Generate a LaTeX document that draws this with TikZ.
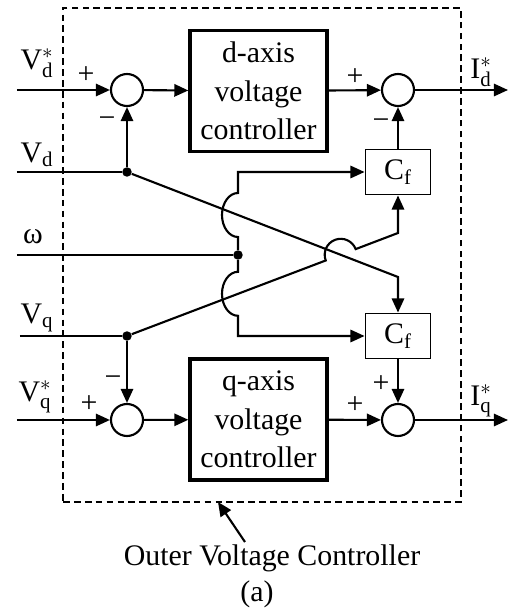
\documentclass[tikz,border=0pt]{standalone}
\usepackage{fontspec}
\setmainfont{Liberation Serif}
\usetikzlibrary{arrows.meta, positioning, calc}

\begin{document}
\begin{tikzpicture}[
          x=0.02cm, y=0.02cm,
          ctrlbox/.style={rectangle, draw, line width=1.9pt, minimum width=2.74cm, minimum height=2.42cm, align=center, font=\fontsize{17}{22}\selectfont},
          gainbox/.style={rectangle, draw, line width=1.1pt, minimum width=1.3cm, minimum height=0.9cm, font=\fontsize{17}{20}\selectfont},
          sumnode/.style={circle, draw, line width=1.2pt, minimum size=0.64cm, inner sep=0pt},
          dot/.style={circle, fill, minimum size=0.19cm, inner sep=0pt},
          outerbox/.style={rectangle, draw, line width=1.2pt, dash pattern=on 3.8pt off 2.4pt},
          sig/.style={font=\fontsize{17}{20}\selectfont, inner sep=0pt},
          sgn/.style={font=\fontsize{17}{20}\selectfont, inner sep=0pt},
          wire/.style={line width=1.2pt},
          arr/.style={-{Triangle[length=8pt, width=7pt]}, line width=1.2pt}
        ]
          \useasboundingbox (0,0) rectangle (510,610);

          \node[outerbox, minimum width=7.96cm, minimum height=9.88cm] (outer) at (262,355) {};

          % d-axis row
          \node[sumnode] (sd1) at (127,520) {};
          \node[ctrlbox] (dctrl) at (258.5,519) {d-axis\\voltage\\controller};
          \node[sumnode] (sd2) at (398,520) {};
          \node[gainbox] (cfd) at (398,438) {C\textsubscript{f}};

          % q-axis row
          \node[sumnode] (sq1) at (127,190) {};
          \node[ctrlbox] (qctrl) at (258.5,190.5) {q-axis\\voltage\\controller};
          \node[sumnode] (sq2) at (398,190) {};
          \node[gainbox] (cfq) at (398,274) {C\textsubscript{f}};

          \node[dot] (vddot) at (127,438) {};
          \node[dot] (wdot) at (238,355) {};
          \node[dot] (vqdot) at (127,274) {};

          \coordinate (vdsin) at (17,520);
          \coordinate (vdin) at (17,438);
          \coordinate (win) at (17,355);
          \coordinate (vqin) at (20,274);
          \coordinate (vqsin) at (17,190);
          \coordinate (idout) at (508,520);
          \coordinate (iqout) at (508,190);
          \coordinate (vdbend) at (398,333);
          \coordinate (vqbend) at (398,377);
          \coordinate (wtop) at (238,438);
          \coordinate (wbot) at (238,274);
          \coordinate (hopa) at (238,395);
          \coordinate (hopb) at (238,316.2);
          \coordinate (hopc) at (340.7,355.2);

          % signal names
          \node[sig] (lvds) at (37,547) {$\mathrm{V}^{*}_{\mathrm{d}}$};
          \node[sig] (lvd) at (37,455) {$\mathrm{V}_{\mathrm{d}}$};
          \node[sig] (lw) at (33,373) {ω};
          \node[sig] (lvq) at (37,292) {$\mathrm{V}_{\mathrm{q}}$};
          \node[sig] (lvqs) at (35,213) {$\mathrm{V}^{*}_{\mathrm{q}}$};
          \node[sig] (lids) at (481,538) {$\mathrm{I}^{*}_{\mathrm{d}}$};
          \node[sig] (liqs) at (481,209) {$\mathrm{I}^{*}_{\mathrm{q}}$};

          % signs
          \node[sgn] (p1) at (86,535) {+};
          \node[sgn] (m1) at (107,488) {−};
          \node[sgn] (p2) at (355,533) {+};
          \node[sgn] (m2) at (381,486) {−};
          \node[sgn] (m3) at (113,229) {−};
          \node[sgn] (p3) at (89,206) {+};
          \node[sgn] (p4) at (355,205) {+};
          \node[sgn] (p5) at (381,226) {+};

          % d-axis path
          \draw[arr] (vdsin) -- (sd1);
          \draw[arr] (sd1) -- (dctrl);
          \draw[arr] (dctrl) -- (sd2);
          \draw[arr] (sd2) -- (idout);
          \draw[arr] (cfd) -- (sd2);
          \draw[wire] (vdin) -- (vddot);
          \draw[arr] (vddot) -- (sd1);
          \draw[arr] (vddot) -- (vdbend) -- (cfq);

          % omega with hops
          \draw[wire] (win) -- (wdot);
          \draw[arr] (wdot) -- ($(hopa)+(0,-22)$) arc[start angle=270, end angle=90, x radius=16, y radius=22] -- (wtop) -- (cfd);
          \draw[arr] (wdot) -- ($(hopb)+(0,22)$) arc[start angle=90, end angle=270, x radius=16, y radius=22] -- (wbot) -- (cfq);

          % q-axis path
          \draw[wire] (vqin) -- (vqdot);
          \draw[arr] (vqdot) -- (sq1);
          \draw[arr] (vqdot) -- ($(hopc)!0.32cm!(vqdot)$) arc[start angle=200.8, end angle=20.8, radius=16] -- (vqbend) -- (cfd);
          \draw[arr] (vqsin) -- (sq1);
          \draw[arr] (sq1) -- (qctrl);
          \draw[arr] (qctrl) -- (sq2);
          \draw[arr] (sq2) -- (iqout);
          \draw[arr] (cfq) -- (sq2);

          % caption
          \node[sig] (title) at (272,52) {Outer Voltage Controller};
          \node[sig] (sublbl) at (257,16) {(a)};
          \coordinate (annot) at (245,68);
          \coordinate (annotend) at (218,108);
          \draw[arr] (annot) -- (annotend);
        \end{tikzpicture}
\end{document}
